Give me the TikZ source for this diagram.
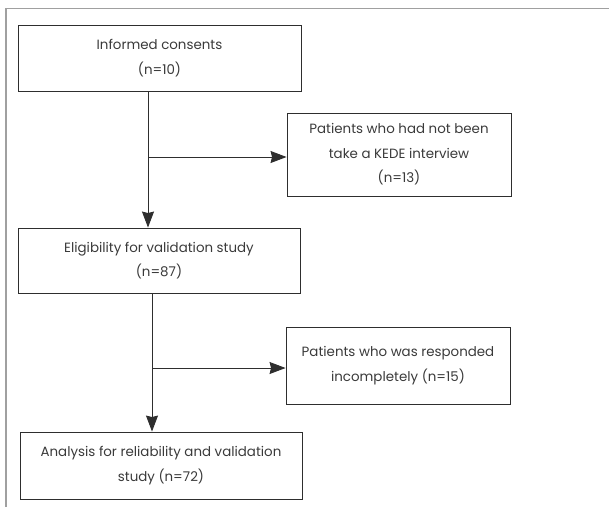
\documentclass[tikz,border=0pt]{standalone}
\usepackage{fontspec}
\setmainfont{Poppins}
\usetikzlibrary{arrows.meta}
\definecolor{ink}{HTML}{2E2E2E}
\definecolor{txt}{HTML}{3A3A3A}
\definecolor{frame}{HTML}{A0A0A0}
\tikzset{
  box/.style={draw=ink, line width=0.9pt, align=center, text=txt, inner sep=0pt,
    font=\fontsize{13.4}{24.5}\selectfont},
  conn/.style={draw=ink, line width=0.9pt},
  arr/.style={conn, -{Stealth[length=16pt,width=12pt,inset=1.5pt]}}
}
\begin{document}
\begin{tikzpicture}[x=1pt,y=-1pt]
\useasboundingbox (0,0) rectangle (609,507);
\draw[frame, line width=1.6pt] (6,507) -- (6,8);
\draw[frame, line width=1pt] (5.2,8) -- (609,8);
\node[box, minimum width=283pt, minimum height=66pt] (b1) at (159.5,58) {Informed consents\\(n=10)};
\node[box, minimum width=224pt, minimum height=83pt] (r1) at (399,154.5) {Patients who had not been\\take a KEDE interview\\(n=13)};
\node[box, minimum width=282pt, minimum height=65pt] (b2) at (159,260.5) {Eligibility for validation study\\(n=87)};
\node[box, minimum width=224pt, minimum height=77pt] (r2) at (398,365.5) {Patients who was responded\\incompletely (n=15)};
\node[box, minimum width=282pt, minimum height=67pt] (b3) at (161,465.5) {Analysis for reliability and validation\\study (n=72)};
\coordinate (j1) at (148,157);
\coordinate (j2) at (152,368);
\draw[conn] (j1 |- b1.south) -- (j1);
\draw[arr] (j1) -- (r1.west |- j1);
\draw[arr] (j1) -- (j1 |- b2.north);
\draw[conn] (j2 |- b2.south) -- (j2);
\draw[arr] (j2) -- (r2.west |- j2);
\draw[arr] (j2) -- (j2 |- b3.north);
\end{tikzpicture}
\end{document}
